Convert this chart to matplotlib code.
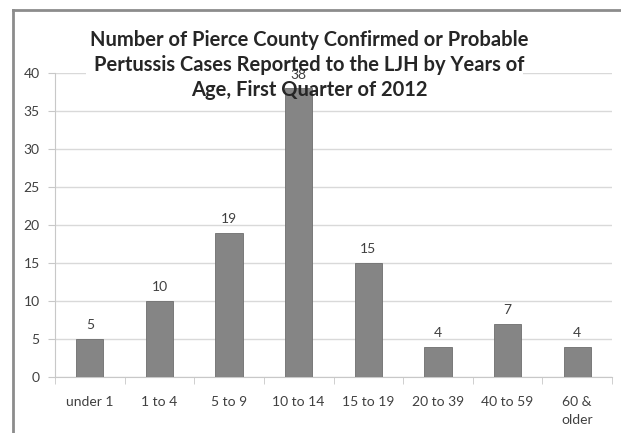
import matplotlib
matplotlib.use("Agg")
import matplotlib.pyplot as plt
from matplotlib.lines import Line2D
from matplotlib.patches import Rectangle
import numpy as np

categories = ["under 1", "1 to 4", "5 to 9", "10 to 14", "15 to 19",
              "20 to 39", "40 to 59", "60 &\nolder"]
cases = [5, 10, 19, 38, 15, 4, 7, 4]
yticks = [0, 5, 10, 15, 20, 25, 30, 35, 40]
title_lines = ["Number of Pierce County Confirmed or Probable",
               "Pertussis Cases Reported to the LJH by Years of",
               "Age, First Quarter of 2012"]

plt.rcParams['font.family'] = ['Lato', 'DejaVu Sans']

W, H = 621, 433
fig = plt.figure(figsize=(W / 100, H / 100), dpi=100)
ax = fig.add_axes([55 / W, 1 - 377 / H, (612 - 55) / W, (377 - 73) / H])

x = np.arange(len(categories))
ax.bar(x, cases, width=0.39, color="#858585", edgecolor="#6e6e6e",
       linewidth=0.6, zorder=3)
for xi, v in zip(x, cases):
    ax.text(xi, v + 1.0, str(v), ha="center", va="bottom",
            fontsize=10, color="#404040", zorder=4)

ax.set_xlim(-0.5, len(categories) - 0.5)
ax.set_ylim(0, 40)
ax.set_yticks(yticks)
ax.set_yticklabels([str(t) for t in yticks])
ax.set_xticks(x)
ax.set_xticklabels(categories, linespacing=1.55)
ax.set_xticks(np.arange(len(categories) + 1) - 0.5, minor=True)

ax.yaxis.grid(True, color="#d9d9d9", linewidth=1)
ax.set_axisbelow(True)
for s in ["top", "right"]:
    ax.spines[s].set_visible(False)
ax.spines["left"].set_color("#c8c8c8")
ax.spines["bottom"].set_color("#c8c8c8")

ax.tick_params(axis="x", which="major", length=0, pad=14,
               labelsize=10, labelcolor="#404040")
ax.tick_params(axis="x", which="minor", length=5, color="#c8c8c8",
               direction="out")
ax.tick_params(axis="y", length=5, color="#c8c8c8", pad=6,
               labelsize=10, labelcolor="#404040")

# title box hides the top gridline behind the title text
ax.add_patch(Rectangle((86 / W, 1 - 79 / H), (523 - 86) / W, 13 / H,
                       transform=fig.transFigure, facecolor="white",
                       edgecolor="none", zorder=1.5, clip_on=False))

baselines = [46, 71, 96]
for line, yb in zip(title_lines, baselines):
    fig.text(309 / W, 1 - yb / H, line, ha="center", va="baseline",
             fontsize=14.5, fontweight="bold", color="#262626")

# outer chart frame (partial, as in the screenshot)
fig.add_artist(Line2D([13 / W, 13 / W], [0, 1 - 10 / H], color="#8c8c8c",
                      linewidth=2, transform=fig.transFigure))
fig.add_artist(Line2D([13 / W, 1], [1 - 10 / H, 1 - 10 / H], color="#8c8c8c",
                      linewidth=2, transform=fig.transFigure))

fig.savefig("out.png", dpi=100)
